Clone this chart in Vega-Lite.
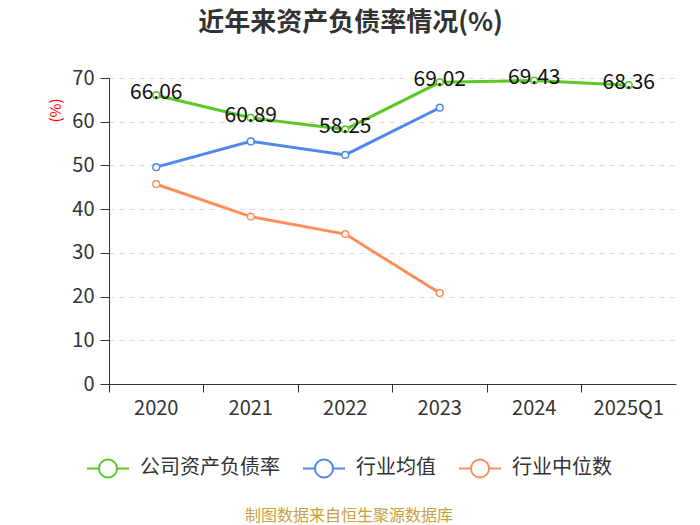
{
  "$schema": "https://vega.github.io/schema/vega-lite/v6.json",
  "width": 567,
  "height": 306,
  "autosize": "none",
  "padding": {"left": 109, "top": 78, "right": 24, "bottom": 141},
  "background": "white",
  "title": {
    "text": "近年来资产负债率情况(%)",
    "fontSize": 26,
    "fontWeight": "bold",
    "color": "#333333",
    "font": "Noto Sans CJK SC",
    "anchor": "middle",
    "dx": -42,
    "offset": 31
  },
  "config": {
    "font": "Noto Sans CJK SC",
    "view": {"stroke": null}
  },
  "data": {
    "values": [
      {"year": "2020", "series": "公司资产负债率", "value": 66.06},
      {"year": "2021", "series": "公司资产负债率", "value": 60.89},
      {"year": "2022", "series": "公司资产负债率", "value": 58.25},
      {"year": "2023", "series": "公司资产负债率", "value": 69.02},
      {"year": "2024", "series": "公司资产负债率", "value": 69.43},
      {"year": "2025Q1", "series": "公司资产负债率", "value": 68.36},
      {"year": "2020", "series": "行业均值", "value": 49.6},
      {"year": "2021", "series": "行业均值", "value": 55.5},
      {"year": "2022", "series": "行业均值", "value": 52.4},
      {"year": "2023", "series": "行业均值", "value": 63.2},
      {"year": "2020", "series": "行业中位数", "value": 45.7},
      {"year": "2021", "series": "行业中位数", "value": 38.3},
      {"year": "2022", "series": "行业中位数", "value": 34.3},
      {"year": "2023", "series": "行业中位数", "value": 20.8}
    ]
  },
  "encoding": {
    "x": {
      "field": "year",
      "type": "ordinal",
      "scale": {"type": "band", "paddingInner": 0, "paddingOuter": 0},
      "axis": {
        "title": null,
        "bandPosition": 0,
        "labelAngle": 0,
        "labelFontSize": 20,
        "labelColor": "#333333",
        "labelPadding": 6,
        "domainColor": "#333333",
        "tickColor": "#333333",
        "tickSize": 8,
        "grid": false
      }
    },
    "y": {
      "field": "value",
      "type": "quantitative",
      "scale": {"domain": [0, 70], "nice": false},
      "axis": {
        "values": [0, 10, 20, 30, 40, 50, 60, 70],
        "title": "(%)",
        "titleColor": "#ff0000",
        "titleFontSize": 15,
        "titleFontWeight": "normal",
        "titleAngle": -90,
        "titleX": -54,
        "titleY": 32,
        "titleAlign": "center",
        "titleBaseline": "middle",
        "labelFontSize": 20,
        "labelColor": "#333333",
        "labelPadding": 6,
        "domainColor": "#333333",
        "tickColor": "#333333",
        "tickSize": 9,
        "gridColor": "#dddddd",
        "gridDash": [5, 5]
      }
    },
    "color": {
      "field": "series",
      "type": "nominal",
      "scale": {
        "domain": ["公司资产负债率", "行业均值", "行业中位数"],
        "range": ["#5cc726", "#4f87ec", "#fd8e5a"]
      },
      "legend": {
        "orient": "none",
        "legendX": -23,
        "legendY": 368,
        "direction": "horizontal",
        "title": "制图数据来自恒生聚源数据库",
        "titleOrient": "bottom",
        "titleAnchor": "middle",
        "titleColor": "#c9a03a",
        "titleFontSize": 16,
        "titleFontWeight": "normal",
        "titleLimit": 500,
        "titlePadding": 26,
        "labelFontSize": 20,
        "labelColor": "#333333",
        "labelOffset": 10,
        "labelLimit": 300,
        "columnPadding": 19,
        "symbolType": "M-1,0L-0.43,0M0.43,0L1,0M-0.43,0A0.43,0.43 0 1,1 0.43,0A0.43,0.43 0 1,1 -0.43,0Z",
        "symbolSize": 1764,
        "symbolStrokeWidth": 2,
        "symbolFillColor": "white"
      }
    }
  },
  "layer": [
    {
      "mark": {
        "type": "line",
        "strokeWidth": 3,
        "point": {"filled": false, "fill": "white", "size": 45, "strokeWidth": 1.5}
      }
    },
    {
      "transform": [{"filter": "datum.series === '公司资产负债率'"}],
      "mark": {"type": "text", "fontSize": 21, "color": "#111111", "dy": -2},
      "encoding": {
        "text": {"field": "value", "type": "quantitative", "format": ".2f"},
        "color": {"value": "#111111"}
      }
    }
  ]
}
